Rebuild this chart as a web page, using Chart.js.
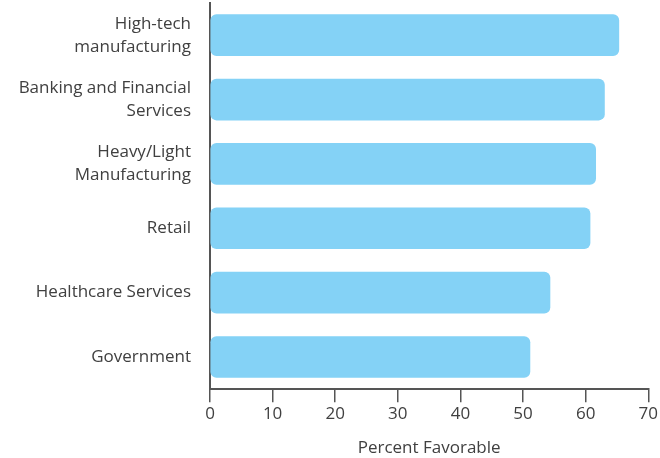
<!DOCTYPE html>
<html>
<head>
<meta charset="utf-8">
<script src="https://cdn.jsdelivr.net/npm/chart.js@4"></script>
<style>
html,body{margin:0;padding:0;background:#fff;}
#wrap{width:660px;height:458px;}
</style>
</head>
<body>
<div id="wrap"><canvas id="c" width="660" height="458"></canvas></div>
<script>
const categories = [
  ["High-tech", "manufacturing"],
  ["Banking and Financial", "Services"],
  ["Heavy/Light", "Manufacturing"],
  "Retail",
  "Healthcare Services",
  "Government"
];
const values = [65.3, 63.0, 61.6, 60.7, 54.3, 51.1];
const xTicks = [0, 10, 20, 30, 40, 50, 60, 70];
const xTitle = "Percent Favorable";

const FONT = "'Open Sans', 'Noto Sans', sans-serif";
const TXT = "#404040";
const AX = "#555555";

new Chart(document.getElementById('c'), {
  type: 'bar',
  data: {
    labels: categories,
    datasets: [{
      data: values,
      backgroundColor: '#84D2F6',
      borderWidth: 0,
      borderRadius: 6,
      borderSkipped: false,
      barThickness: 41
    }]
  },
  options: {
    indexAxis: 'y',
    responsive: false,
    animation: false,
    devicePixelRatio: 1,
    layout: { padding: { top: 3, right: 10, bottom: 0, left: 0 } },
    plugins: { legend: { display: false }, tooltip: { enabled: false } },
    scales: {
      x: {
        min: xTicks[0],
        max: xTicks[xTicks.length - 1],
        afterBuildTicks: (s) => { s.ticks = xTicks.map(v => ({ value: v })); },
        grid: { display: true, drawOnChartArea: false, drawTicks: true, tickLength: 13, color: AX, lineWidth: 1.5 },
        border: { display: true, color: AX, width: 2 },
        ticks: { color: TXT, font: { family: FONT, size: 17 }, padding: 2 },
        title: { display: true, text: xTitle, color: TXT, font: { family: FONT, size: 17 }, padding: { top: 11, bottom: 0 } }
      },
      y: {
        grid: { display: false, drawTicks: false },
        border: { display: true, color: AX, width: 2 },
        afterFit: (s) => { s.width = 210; s.paddingTop = 0; s.paddingBottom = 0; },
        ticks: { color: TXT, font: { family: FONT, size: 17, lineHeight: 1.35 }, padding: 19 }
      }
    }
  }
});
</script>
</body>
</html>
